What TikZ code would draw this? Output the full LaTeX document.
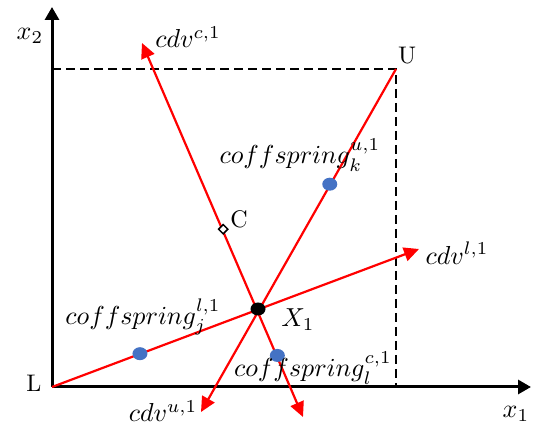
\documentclass[tikz,border=0pt]{standalone}
\usepackage{amsmath}
\usepackage{tikz}
\usetikzlibrary{
    calc,
    arrows.meta
}

\definecolor{offblue}{RGB}{68,114,196}

\begin{document}
\begin{tikzpicture}[x=1pt,y=1pt,
    axis/.style={line width=3pt,-{Triangle[length=13pt,width=14pt]}},
    guide/.style={line width=2.5pt,dash pattern=on 9pt off 5pt},
    ray/.style={red,line width=2.2pt},
    raytip/.style={-{Triangle[length=15pt,width=14pt]}},
    lbl/.style={scale=2.4,transform shape},
    mlbl/.style={scale=2.6,transform shape}]

\useasboundingbox (0,0) rectangle (539,426);

\coordinate (L) at (52,39);
\coordinate (U) at (396,357);
\coordinate (X1) at (258,117);
\coordinate (Ytop) at (52,419);
\coordinate (Xend) at (531,39);
\coordinate (Utop) at (52,357);
\coordinate (Ubot) at (396,39);
\coordinate (tipL) at (419,177);
\coordinate (tipU) at (201,14);
\coordinate (tipCa) at (142,383);
\coordinate (tipCb) at (303,9);

% box of bounds
\draw[guide] (Utop)--(U)--(Ubot);

% axes
\draw[axis] (L)--(Xend);
\draw[axis] (L)--(Ytop);

% search directions
\draw[ray,raytip] (L)--(tipL);
\draw[ray,raytip] (U)--(tipU);
\draw[ray,{Triangle[length=15pt,width=14pt]}-{Triangle[length=15pt,width=14pt]}] (tipCa)--(tipCb);

\coordinate (C) at ($(tipCa)!0.7!(X1)$);
\coordinate (Oj) at ($(L)!0.427!(X1)$);
\coordinate (Ok) at ($(U)!0.48!(X1)$);
\coordinate (Ol) at ($(X1)!0.43!(tipCb)$);

\fill[offblue] (Oj) ellipse (7.5 and 6.5);
\fill[offblue] (Ok) ellipse (7.5 and 6.5);
\fill[offblue] (Ol) ellipse (7.5 and 6.5);
\fill (X1) ellipse (7.5 and 6.5);
\node[draw,fill=white,line width=1.5pt,rotate=45,minimum size=6.5pt,inner sep=0pt] (Cm) at (C) {};

\node[mlbl] (lx2) at (30,390) {$x_2$};
\node[mlbl] (lx1) at (516,12) {$x_1$};
\node[lbl] (lL) at (34,43) {L};
\node[lbl] (lU) at (407,370) {U};
\node[lbl] (lC) at (239,207) {C};
\node[mlbl] (lX1) at (298,106) {$X_1$};
\node[mlbl] (lcdvc) at (188,389) {$cdv^{c,1}$};
\node[mlbl] (lcdvl) at (457,173) {$cdv^{l,1}$};
\node[mlbl] (lcdvu) at (163,15) {$cdv^{u,1}$};
\node[mlbl] (lok) at (300,271) {$coffspring_k^{u,1}$};
\node[mlbl] (loj) at (143,109) {$coffspring_j^{l,1}$};
\node[mlbl] (lol) at (313,58) {$coffspring_l^{c,1}$};

\end{tikzpicture}
\end{document}
